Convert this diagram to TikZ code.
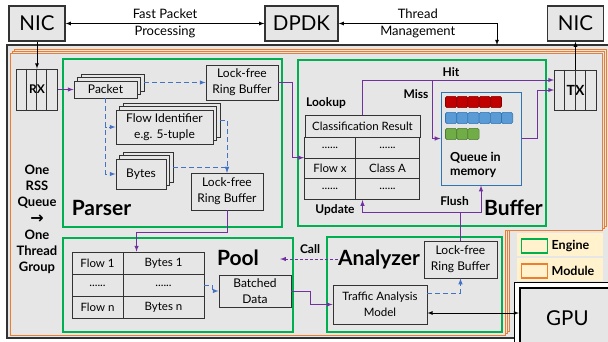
\documentclass[tikz,border=0pt]{standalone}
\usepackage{amsmath}
\usepackage{bm}
\usepackage{fontspec}
\setmainfont{Lato}
\newfontfamily\arrowfont{DejaVu Sans}
\usepackage{tikz}
\usetikzlibrary{shapes,arrows,shadows}
\definecolor{boxgray}{HTML}{E7E6E6}
\definecolor{edgegray}{HTML}{333333}
\definecolor{enggreen}{HTML}{00B050}
\definecolor{modorange}{HTML}{ED7D31}
\definecolor{flowpurple}{HTML}{7030A0}
\definecolor{dashblue}{HTML}{4472C4}
\definecolor{qblue}{HTML}{2E75B6}
\definecolor{qred}{HTML}{C00000}
\definecolor{qlblue}{HTML}{5B9BD5}
\definecolor{qgreen}{HTML}{70AD47}
\definecolor{legyellow}{HTML}{FFF2CC}
\tikzstyle{host} = [draw=edgegray, line width=1.3pt, fill=boxgray, inner sep=0pt, minimum width=56pt, minimum height=35pt, font=\fontsize{20.5}{22}\selectfont]
\tikzstyle{comp} = [draw=edgegray, line width=0.9pt, fill=boxgray, inner sep=0pt, align=center, font=\fontsize{12}{16}\selectfont]
\tikzstyle{stackbox} = [comp, double copy shadow={shadow xshift=3.5pt, shadow yshift=3.5pt, draw=edgegray, fill=boxgray}]
\tikzstyle{tabcell} = [draw=edgegray, line width=0.9pt, fill=boxgray, inner sep=0pt, font=\fontsize{11.5}{13}\selectfont]
\tikzstyle{eng} = [inner sep=0pt, font=\bfseries\fontsize{21}{24}\selectfont]
\tikzstyle{lbl} = [inner sep=0pt, font=\bfseries\fontsize{12}{14}\selectfont]
\tikzstyle{ann} = [inner sep=0pt, align=center, font=\fontsize{13}{17}\selectfont]
\tikzstyle{flow} = [draw=flowpurple, line width=1pt]
\tikzstyle{bdash} = [draw=dashblue, line width=1pt, dash pattern=on 5pt off 3pt]
\tikzstyle{sq} = [rounded corners=1.5pt, minimum size=11.2pt, inner sep=0pt, line width=0.6pt]
\tikzstyle{swatch} = [minimum width=26pt, minimum height=14pt, inner sep=0pt, line width=1.3pt]
\tikzstyle{legcell} = [fill=legyellow, minimum width=86pt, minimum height=23pt, inner sep=0pt]
\tikzstyle{gpubox} = [draw=black, line width=1.8pt, fill=boxgray, minimum width=95pt, minimum height=60pt, inner sep=0pt, font=\fontsize{20.5}{22}\selectfont]
\def\dotrow{......}
\pgfdeclarelayer{background}
\pgfsetlayers{background,main}

\begin{document}
\begin{tikzpicture}[x=1pt, y=-1pt, >=latex]
    \useasboundingbox (0,0) rectangle (608,341);

    \path (37,23.5) node (nicL) [host] {NIC};
    \path (301.5,23.5) node (dpdk) [host, minimum width=73pt] {DPDK};
    \path (575.5,23.5) node (nicR) [host] {NIC};

    \path (37,89.5) node (rx) [comp, minimum width=41pt, minimum height=41pt, font=\bfseries\fontsize{12}{14}\selectfont] {RX};
    \path (575.5,90) node (tx) [comp, minimum width=42pt, minimum height=40pt, font=\bfseries\fontsize{14}{16}\selectfont] {TX};
    \foreach \i in {1,2,3}
    {
        \path[draw=edgegray, line width=0.9pt] (rx.north west) ++(10.25*\i,0) -- ++(0,41);
        \path[draw=edgegray, line width=0.9pt] (tx.north west) ++(10.5*\i,0) -- ++(0,40);
    }

    % parser
    \path (105.5,89.5) node (packet) [stackbox, minimum width=63pt, minimum height=17pt] {Packet};
    \path (242,82.5) node (ringTop) [comp, minimum width=72pt, minimum height=35pt] {Lock-free\\Ring Buffer};
    \path (164.5,127) node (flowId) [stackbox, minimum width=97pt, minimum height=34pt] {Flow Identifier\\e.g. 5-tuple};
    \path (141,174) node (bytes) [stackbox, minimum width=50pt, minimum height=30pt] {Bytes};
    \path (227,191.5) node (ringBot) [comp, minimum width=72pt, minimum height=37pt] {Lock-free\\Ring Buffer};
    \path (101.5,208) node (parserLbl) [eng] {Parser};

    % buffer
    \path (362.5,126) node (clsHead) [tabcell, minimum width=115pt, minimum height=22pt] {Classification Result};
    \foreach \r/\a/\b in {1/\dotrow/\dotrow, 2/Flow x/Class A, 3/\dotrow/\dotrow}
    {
        \path (clsHead.south west)+(25.5,20.7*\r-10.35) node (c\r1) [tabcell, minimum width=51pt, minimum height=20.7pt] {\a};
        \path (clsHead.south west)+(83,20.7*\r-10.35) node (c\r2) [tabcell, minimum width=64pt, minimum height=20.7pt] {\b};
    }
    \path (481,138.5) node (queue) [draw=qblue, line width=1pt, fill=boxgray, minimum width=80pt, minimum height=93pt] {};
    \foreach \i in {0,...,4} \path (queue.north west)+(10.6+11.2*\i,10.5) node (qr\i) [sq, draw=qred!70!black, fill=qred] {};
    \foreach \i in {0,...,5} \path (queue.north west)+(10.6+11.2*\i,26.5) node (qb\i) [sq, draw=qblue, fill=qlblue] {};
    \foreach \i in {0,...,2} \path (queue.north west)+(10.6+11.2*\i,42.5) node (qg\i) [sq, draw=qgreen!70!black, fill=qgreen] {};
    \path (queue.south west)+(6,-21) node (qtext) [anchor=west, align=left, font=\bfseries\fontsize{12.5}{14}\selectfont] {Queue in\\memory};
    \path (513.5,208) node (bufferLbl) [eng] {Buffer};
    \path (326,103) node (lookup) [lbl] {Lookup};
    \path (335,210) node (update) [lbl] {Update};
    \path (451,72) node (hit) [lbl] {Hit};
    \path (416,94) node (miss) [lbl] {Miss};
    \path (454.5,201) node (flush) [lbl] {Flush};

    % pool
    \coordinate (poolTab) at (72,252);
    \foreach \r/\a/\b in {1/Flow 1/Bytes 1, 2/\dotrow/\dotrow, 3/Flow n/Bytes n}
    {
        \path (poolTab)+(25.5,22.3*\r-11.15) node (p\r1) [tabcell, minimum width=51pt, minimum height=22.3pt] {\a};
        \path (poolTab)+(91.5,22.3*\r-11.15) node (p\r2) [tabcell, minimum width=81pt, minimum height=22.3pt] {\b};
    }
    \path (255,291) node (batched) [comp, minimum width=72pt, minimum height=32pt] {Batched\\Data};
    \path (238,258) node (poolLbl) [eng] {Pool};

    % analyzer
    \path (460.5,259.5) node (ringAna) [comp, minimum width=73pt, minimum height=37pt] {Lock-free\\Ring Buffer};
    \path (380,304.5) node (model) [comp, minimum width=94pt, minimum height=39pt, font=\fontsize{11.5}{16}\selectfont] {Traffic Analysis\\Model};
    \path (379,259) node (anaLbl) [eng] {Analyzer};
    \path (310,249) node (call) [lbl] {Call};

    \path (37,219.5) node (rss) [align=center, inner sep=0pt, font=\bfseries\fontsize{13}{16.2}\selectfont] {One\\RSS\\Queue\\{\arrowfont\bfseries\fontsize{16}{16.2}\selectfont →}\\One\\Thread\\Group};

    % legend
    \path (560,244.5) node (legE) [legcell] {};
    \path (560,269) node (legM) [legcell] {};
    \path (legE.west)+(18,1.5) node (swE) [swatch, draw=enggreen] {};
    \path (legM.west)+(18,2) node (swM) [swatch, draw=modorange] {};
    \path (swE.east)+(3,0) node (txE) [anchor=west, lbl, font=\bfseries\fontsize{12.5}{14}\selectfont] {Engine};
    \path (swM.east)+(3,0) node (txM) [anchor=west, lbl, font=\bfseries\fontsize{12.5}{14}\selectfont] {Module};

    % gpu
    \path (514,282) coordinate (gpuOut);
    \path[draw, line width=0.6pt, fill=white] (gpuOut) rectangle (620,350);
    \path (519,287) node (gpu) [gpubox, anchor=north west] {GPU};

    % connectors
    \path[draw, <->, line width=0.8pt] (nicL.east) -- node [midway, ann] {Fast Packet\\Processing} (dpdk.west);
    \path (497,45) coordinate (thrEnd);
    \path[draw, <->, line width=0.8pt] (dpdk.east) -| node [pos=0.25, ann] {Thread\\Management} (thrEnd);
    \path[draw, ->, line width=0.8pt] (nicL.south) -- (rx.north);
    \path[draw, ->, line width=0.8pt] (tx.north) -- (nicR.south);

    \path[draw, ->, flow] (rx.east) -- (packet.west);
    \path[draw, ->, bdash] (packet.east) ++(7,-7) -- (ringTop.west);
    \path[draw, ->, bdash] (packet.south) |- (flowId.west);
    \path[draw, ->, bdash] (packet.south) |- (bytes.west);
    \path[draw, ->, bdash] (flowId.east) ++(7,-7) -| (ringBot.north);
    \path[draw, ->, bdash] (bytes.east) ++(7,-7) -| (ringBot.north);

    \path[draw, ->, flow] (ringTop.east) -- ++(14,0) |- (c21.north west);
    \path[draw, ->, flow] (clsHead.north) |- ([yshift=10pt]tx.west);
    \coordinate (missTop) at (432,80);
    \path[draw, ->, flow] (missTop) |- (queue.west);
    \path[draw, ->, flow] (queue.east) -- ++(16,0) |- (tx.west);
    \path (ringAna.north)+(0,-28) coordinate (flushMid);
    \path[draw, ->, flow] (ringAna.north) -- (flushMid) -| (queue.south);
    \path[draw, ->, flow] (flushMid) -| (clsHead.south |- c31.south);

    \path[draw, ->, flow] (ringBot.south) -- ++(0,22) -| ([xshift=14pt]p12.north west);
    \path[draw, ->, bdash] (p22.east) -- ++(8,0) |- (batched.west);
    \path[draw, ->, flow] (batched.east) -- ++(19,0) |- (model.west);
    \path[draw, ->, bdash] (model.east) ++(0,-11.5) -| (ringAna.south);
    \path (model.east)+(0,8.5) coordinate (modelGpu);
    \path[draw, <->, line width=0.8pt] (modelGpu) -- (modelGpu -| gpu.west);
    \path (poolLbl.east)+(21,2) coordinate (callEnd);
    \path[draw, ->, flow, dash pattern=on 3pt off 2pt] (anaLbl.west) -- (anaLbl.west -| callEnd);

    \begin{pgfonlayer}{background}
        \path[draw=edgegray, line width=1.2pt, fill=boxgray] (7,45) rectangle (615,338);
        \foreach \s in {4,2,0}
        {
            \path[draw=modorange, line width=1pt, fill=boxgray, shift={(\s,-\s)}]
                (10,53) -- (602,53) -- (602,230) -- (505,230) -- (505,335) -- (10,335) -- cycle;
        }
        \path[draw=enggreen, line width=1.1pt] (63,59) rectangle (282,227);
        \path[draw=enggreen, line width=1.1pt] (298,60) rectangle (546,226);
        \path[draw=enggreen, line width=1.1pt] (63,238) rectangle (293,332);
        \path[draw=enggreen, line width=1.1pt] (327,237) rectangle (502,332);
    \end{pgfonlayer}
\end{tikzpicture}
\end{document}
